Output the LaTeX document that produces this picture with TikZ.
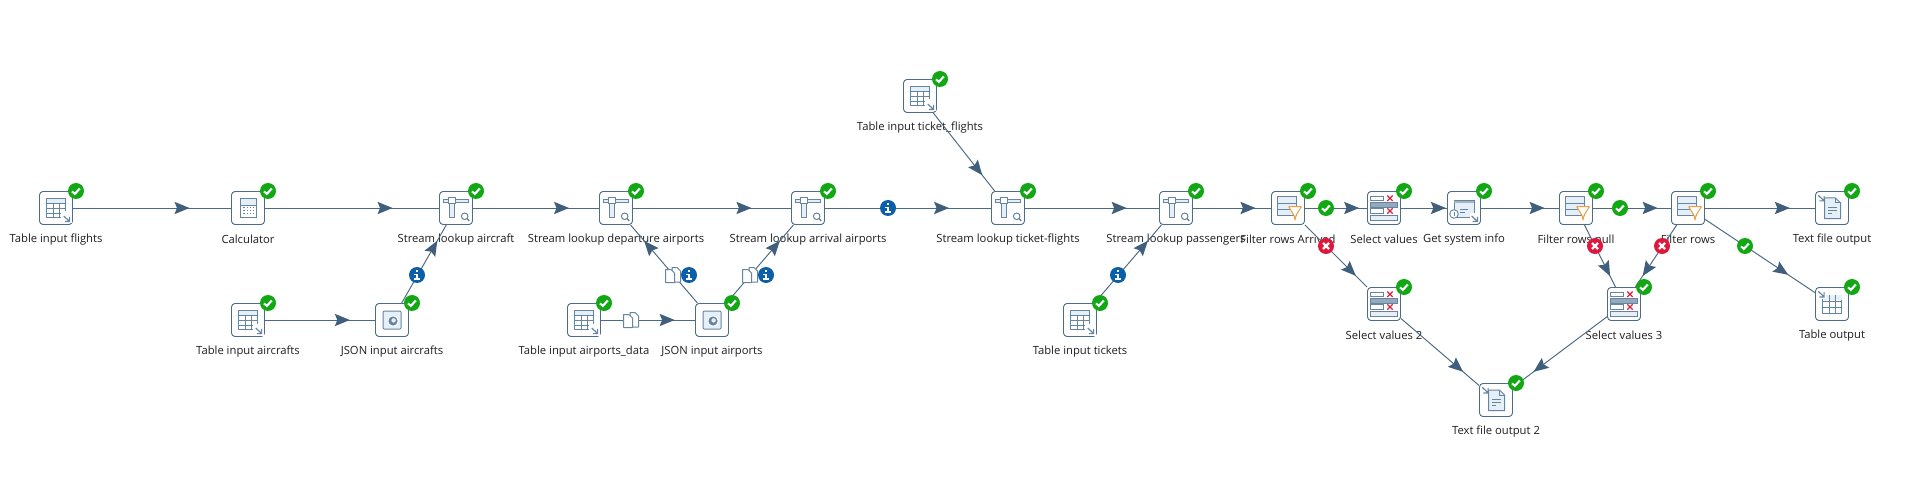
\documentclass[tikz,border=0pt]{standalone}
\usepackage{fontspec}
\setmainfont{Open Sans}
\usetikzlibrary{decorations.markings}
\definecolor{boxline}{HTML}{4F6D87}
\definecolor{iconline}{HTML}{6585A0}
\definecolor{iconpale}{HTML}{E6EFF7}
\definecolor{hopline}{HTML}{4A6A85}
\definecolor{hophead}{HTML}{3F5F7C}
\definecolor{okgreen}{HTML}{12A815}
\definecolor{errred}{HTML}{E0173C}
\definecolor{infoblue}{HTML}{0B5EA8}
\definecolor{funnel}{HTML}{F0A040}
\definecolor{xred}{HTML}{E02040}
\tikzset{
  stepbox/.style={draw=boxline,line width=.9pt,fill=white,rounded corners=3.5pt,minimum size=33pt,inner sep=0pt},
  steplabel/.style={font=\fontsize{11.25pt}{14pt}\selectfont,text=black!88,inner sep=0pt,anchor=center},
  hoplink/.style={draw=hopline,line width=.95pt},
  headat/.style={postaction={decorate},decoration={markings,mark=at position #1 with {\fill[hophead] (1,0)--(-14,6.2)--(-11.5,0)--(-14,-6.2)--cycle;}}},
  dotbadge/.style={circle,inner sep=0pt,minimum size=16pt},
  il/.style={draw=iconline,line width=1pt},
  ilt/.style={draw=iconline,line width=.6pt},
  arrowicon/.pic={\draw[iconline,line width=1.2pt] (0,0)--(5.6,5.4) (5.8,.8)--(5.8,5.6)--(1,5.6);},
  tablein/.pic={
    \fill[iconpale] (-9.3,-9.3) rectangle (9.7,-4.6);
    \draw[il] (-9.3,-9.3) rectangle (9.7,9.3);
    \draw[ilt] (-9.3,-4.6)--(9.7,-4.6) (-9.3,.4)--(9.7,.4) (-9.3,5)--(9.7,5) (-3,-4.6)--(-3,9.3) (3.4,-4.6)--(3.4,9.3);
    \fill[white] (4.5,3.5) rectangle (16,15.5);
    \pic at (7.8,8) {arrowicon};
  },
  calcicon/.pic={
    \fill[iconpale] (-7.3,-9.3) rectangle (8,-3);
    \draw[il] (-7.3,-9.3) rectangle (8,9.3);
    \draw[ilt] (-7.3,-3)--(8,-3);
    \foreach \a in {-4,-.7,2.6,5.4}{\foreach \b in {-.5,2.5,5.5}{\fill[iconline] (\a-.6,\b-.5) rectangle (\a+.6,\b+.5);}}
  },
  lookupicon/.pic={
    \draw[il,fill=iconpale] (-12.7,-8.7) rectangle (12.7,-5.6);
    \draw[il,fill=white] (-8,-10) rectangle (-.7,-4.2);
    \draw[il,fill=iconpale] (-6.7,-4.2) rectangle (-2,10);
    \draw[il] (8.7,8.3) circle (3.3);
    \draw[iconline,line width=1.4pt] (11,10.6)--(13.3,12.9);
  },
  jsonicon/.pic={
    \draw[il,fill=iconpale,rounded corners=1pt] (-9,-9) rectangle (9,9);
    \fill[white] (1,1) circle (5.6);
    \fill[iconline] (1,1) circle (4.6);
    \fill[iconpale] (1.6,.4) circle (2.2);
  },
  filtericon/.pic={
    \draw[il,fill=iconpale] (-10.7,-11.3) rectangle (8.7,7.3);
    \draw[ilt] (-10.7,-4.7)--(8.7,-4.7) (-10.7,1.3)--(8.7,1.3);
    \draw[funnel,line width=1pt,fill=white,line join=round] (.7,-1.3)--(13.3,-1.3)--(8,7.5)--(7,12)--(6,7.5)--cycle;
  },
  xmark/.pic={\draw[xred,line width=1.2pt] (-2.7,-2.7)--(2.7,2.7) (-2.7,2.7)--(2.7,-2.7);},
  selecticon/.pic={
    \draw[ilt,line width=.9pt,fill=white] (-13.3,-12) rectangle (-.7,-7.4);
    \draw[ilt,line width=.9pt,fill=iconline!70] (-13.3,-5.4) rectangle (13.3,-.8);
    \draw[ilt,line width=.9pt,fill=white] (-13.3,.8) rectangle (-.7,5.4);
    \draw[ilt,line width=.9pt,fill=iconpale] (-13.3,7.4) rectangle (13.3,12);
    \pic at (6,-9.7) {xmark};
    \pic at (6,3) {xmark};
  },
  sysicon/.pic={
    \draw[ilt,fill=iconpale] (-10,-7.3) rectangle (10,9.3);
    \fill[iconline!60] (-10,-7.3) rectangle (10,-4.6);
    \draw[ilt] (-4,1)--(4,1) (-4,4)--(1,4);
    \draw[ilt,line width=.9pt,fill=white] (-10,6) circle (4.3);
    \draw[iconline,line width=.9pt] (-10,4.2)--(-10,8);
    \fill[white] (5.5,5) rectangle (15,15);
    \pic at (7.7,8) {arrowicon};
  },
  docshape/.pic={
    \draw[il,fill=iconpale,line join=round] (-8,-10)--(3,-10)--(8,-5)--(8,10.7)--(-8,10.7)--cycle;
    \draw[il] (3,-10)--(3,-5)--(8,-5);
  },
  textouticon/.pic={
    \pic at (0.5,0) {docshape};
    \draw[ilt] (-4,-1)--(5,-1) (-4,2)--(5,2) (-4,5)--(0,5);
    \pic at (-13.7,-12.7) {arrowicon};
  },
  tableouticon/.pic={
    \draw[il] (-9.3,-8.7) rectangle (9.7,9.3);
    \fill[iconpale] (-9.3,-8.7) rectangle (9.7,-4);
    \draw[ilt] (-9.3,-3)--(9.7,-3) (-9.3,3)--(9.7,3) (-3,-8.7)--(-3,9.3) (3.4,-8.7)--(3.4,9.3);
    \fill[white] (-15,-14) rectangle (-6,-5);
    \pic at (-13.7,-12.7) {arrowicon};
  },
}
% step: name, x, y, icon, label
\newcommand{\kstep}[5]{%
  \node[steplabel] (#1L) at (#2,#3+31.5) {#5};
  \node[stepbox] (#1) at (#2,#3) {};
  \pic at (#1.center) {#4};
}
\newcommand{\khop}[3]{\draw[hoplink] (#1)--(#2);\path[headat=#3] (#1.center)--(#2.center);}
\newcommand{\kok}[3]{%
  \node[dotbadge,fill=okgreen] (#1) at (#2,#3) {};
  \draw[white,line width=2.1pt] ([shift={(-4,.3)}]#1.center)--++(2.7,2.6)--++(5.2,-5.4);
}
\newcommand{\kerr}[3]{%
  \node[dotbadge,fill=errred] (#1) at (#2,#3) {};
  \draw[white,line width=2.4pt] ([shift={(-3,-3)}]#1.center)--++(6,6) ([shift={(-3,3)}]#1.center)--++(6,-6);
}
\newcommand{\kinfo}[3]{%
  \node[dotbadge,fill=infoblue] (#1) at (#2,#3) {};
  \fill[white] ([shift={(-1.2,-5)}]#1.center) rectangle ([shift={(1.2,-2.7)}]#1.center);
  \fill[white] ([shift={(-2.6,-1.4)}]#1.center) rectangle ([shift={(1.2,.2)}]#1.center);
  \fill[white] ([shift={(-1.2,-1.4)}]#1.center) rectangle ([shift={(1.2,3.6)}]#1.center);
  \fill[white] ([shift={(-2.8,3.4)}]#1.center) rectangle ([shift={(2.8,5)}]#1.center);
}
\newcommand{\kcopy}[3]{%
  \coordinate (#1) at (#2,#3);
  \begin{scope}[shift={(#1)}]
    \draw[iconline,line width=1pt,fill=white,line join=round] (-1,-7.5)--(4,-7.5)--(7.5,-4)--(7.5,7)--(-1,7)--cycle;
    \draw[iconline,line width=1pt,fill=white,line join=round] (-7.5,-5.5)--(-2,-5.5)--(1.5,-2)--(1.5,7.5)--(-7.5,7.5)--cycle;
  \end{scope}
}
\begin{document}
\begin{tikzpicture}[x=1pt,y=-1pt]
\useasboundingbox (0,0) rectangle (1914,497);
\fill[white] (0,0) rectangle (1914,497);
\kstep{tif}{56}{208}{tablein}{Table input flights}
\kstep{calc}{248}{208}{calcicon}{Calculator}
\kstep{sla}{456}{208}{lookupicon}{Stream lookup aircraft}
\kstep{sld}{616}{208}{lookupicon}{Stream lookup departure airports}
\kstep{slr}{808}{208}{lookupicon}{Stream lookup arrival airports}
\kstep{slt}{1008}{208}{lookupicon}{Stream lookup ticket-flights}
\kstep{slp}{1176}{208}{lookupicon}{Stream lookup passengers}
\kstep{fra}{1288}{208}{filtericon}{Filter rows Arrived}
\kstep{sv}{1384}{208}{selecticon}{Select values}
\kstep{gsi}{1464}{208}{sysicon}{Get system info}
\kstep{frn}{1576}{208}{filtericon}{Filter rows null}
\kstep{fr}{1688}{208}{filtericon}{Filter rows}
\kstep{tfo}{1832}{208}{textouticon}{Text file output}
\kstep{tita}{248}{320}{tablein}{Table input aircrafts}
\kstep{jia}{392}{320}{jsonicon}{JSON input aircrafts}
\kstep{tiad}{584}{320}{tablein}{Table input airports\_data}
\kstep{jip}{712}{320}{jsonicon}{JSON input airports}
\kstep{tit}{1080}{320}{tablein}{Table input tickets}
\kstep{titf}{920}{96}{tablein}{Table input ticket\_flights}
\kstep{svb}{1384}{304}{selecticon}{Select values 2}
\kstep{svc}{1624}{304}{selecticon}{Select values 3}
\kstep{to}{1832}{304}{tableouticon}{Table output}
\kstep{tfb}{1496}{400}{textouticon}{Text file output 2}
\khop{tif}{calc}{.69}
\khop{calc}{sla}{.69}
\khop{sla}{sld}{.70}
\khop{sld}{slr}{.70}
\khop{slr}{slt}{.70}
\khop{slt}{slp}{.70}
\khop{slp}{fra}{.70}
\khop{fra}{sv}{.73}
\khop{sv}{gsi}{.76}
\khop{gsi}{frn}{.71}
\khop{frn}{fr}{.72}
\khop{fr}{tfo}{.70}
\khop{fr}{to}{.69}
\khop{tita}{jia}{.70}
\khop{jia}{sla}{.70}
\khop{tiad}{jip}{.70}
\khop{jip}{sld}{.70}
\khop{jip}{slr}{.70}
\khop{tit}{slp}{.70}
\khop{titf}{slt}{.70}
\khop{fra}{svb}{.70}
\khop{frn}{svc}{.70}
\khop{fr}{svc}{.70}
\khop{svb}{tfb}{.70}
\khop{svc}{tfb}{.70}
\kok{b1}{76}{191}\kok{b2}{268}{191}\kok{b3}{476}{191}\kok{b4}{636}{191}\kok{b5}{828}{191}
\kok{b6}{1028}{191}\kok{b7}{1196}{191}\kok{b8}{1308}{191}\kok{b9}{1404}{191}\kok{b10}{1484}{191}
\kok{b11}{1596}{191}\kok{b12}{1708}{191}\kok{b13}{1852}{191}
\kok{b14}{268}{303}\kok{b15}{412}{303}\kok{b16}{604}{303}\kok{b17}{732}{303}\kok{b18}{1100}{303}
\kok{b19}{940}{79}\kok{b20}{1404}{287}\kok{b21}{1644}{287}\kok{b22}{1852}{287}\kok{b23}{1516}{383}
\kok{hok1}{1326}{208}\kok{hok2}{1620}{208}\kok{hok3}{1745}{246}
\kerr{he1}{1326}{246}\kerr{he2}{1595}{246}\kerr{he3}{1662}{246}
\kinfo{hi1}{417}{275}\kinfo{hi2}{689}{275}\kinfo{hi3}{766}{275}\kinfo{hi4}{888}{208}\kinfo{hi5}{1118}{275}
\kcopy{hc1}{673}{275}\kcopy{hc2}{750}{275}\kcopy{hc3}{631}{320}
\end{tikzpicture}
\end{document}
